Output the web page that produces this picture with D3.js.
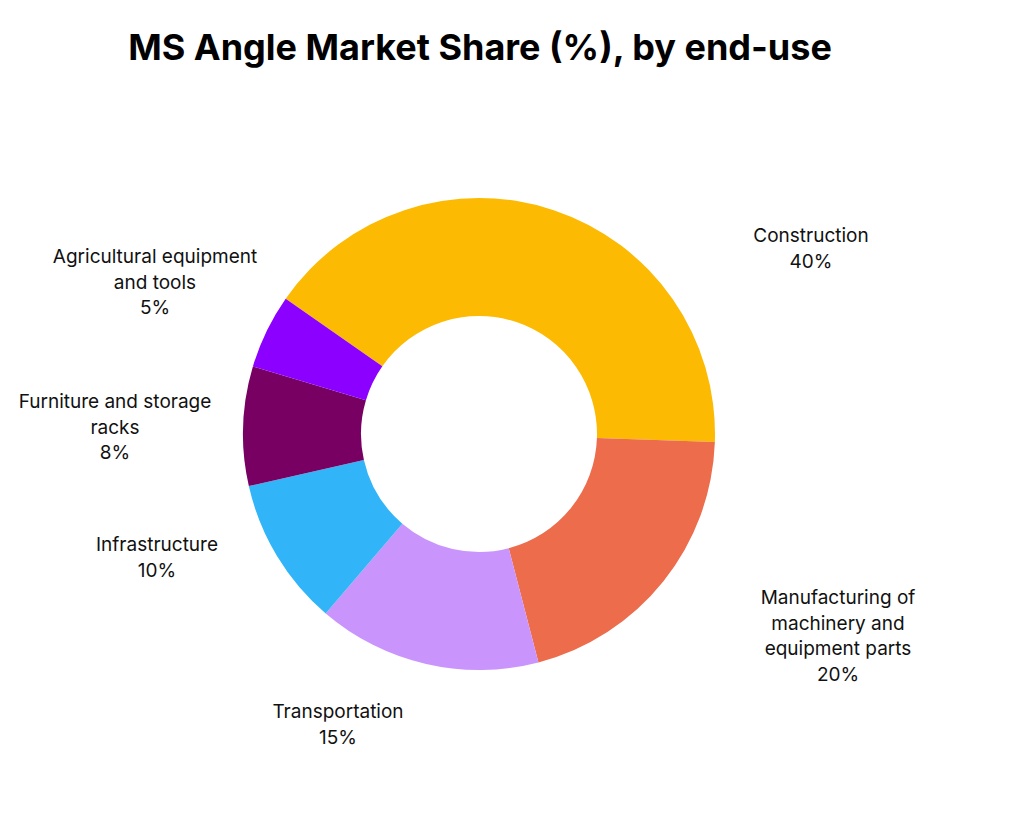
<!DOCTYPE html>
<html><head><meta charset="utf-8">
<script src="https://cdn.jsdelivr.net/npm/d3@7"></script>
<style>body{margin:0;background:#fff}text{font-family:Inter,"Noto Sans",sans-serif}</style>
</head><body>
<svg id="chart" width="1019" height="816"></svg>
<script>
// chart data
const categories = ["Construction", "Manufacturing of machinery and equipment parts", "Transportation", "Infrastructure", "Furniture and storage racks", "Agricultural equipment and tools"];
const labelLines = [["Construction"], ["Manufacturing of", "machinery and", "equipment parts"], ["Transportation"], ["Infrastructure"], ["Furniture and storage", "racks"], ["Agricultural equipment", "and tools"]];
const shares = [40, 20, 15, 10, 8, 5];
const colors = ["#FDBA03", "#EC6C4C", "#C995FD", "#31B5F8", "#780062", "#8B00FF"];
// label anchors (layout only)
const labelPos = [[811, 236], [838, 598], [338, 712], [157, 545], [115, 402], [155, 257]];

const svg = d3.select("#chart");
const cx = 479, cy = 434, rOut = 236, rIn = 118;

svg.append("text").attr("x", 480).attr("y", 60).attr("text-anchor", "middle")
  .attr("font-size", 36).attr("font-weight", 700).attr("fill", "#000")
  .text("MS Angle Market Share (%), by end-use");

const pie = d3.pie().sort(null).value(d => d)
  .startAngle(-55 * Math.PI / 180).endAngle(305 * Math.PI / 180);
const arc = d3.arc().innerRadius(rIn).outerRadius(rOut);

const g = svg.append("g").attr("transform", `translate(${cx},${cy})`);
g.selectAll("path").data(pie(shares)).join("path")
  .attr("d", arc).attr("fill", (d, i) => colors[i]);

shares.forEach((v, i) => {
  const t = svg.append("text").attr("text-anchor", "middle")
    .attr("font-size", 19).attr("fill", "#111");
  const lines = labelLines[i].concat([v + "%"]);
  lines.forEach((l, j) => {
    t.append("tspan").attr("x", labelPos[i][0]).attr("y", labelPos[i][1] + 6 + j * 25.5).text(l);
  });
});
</script>
</body></html>
